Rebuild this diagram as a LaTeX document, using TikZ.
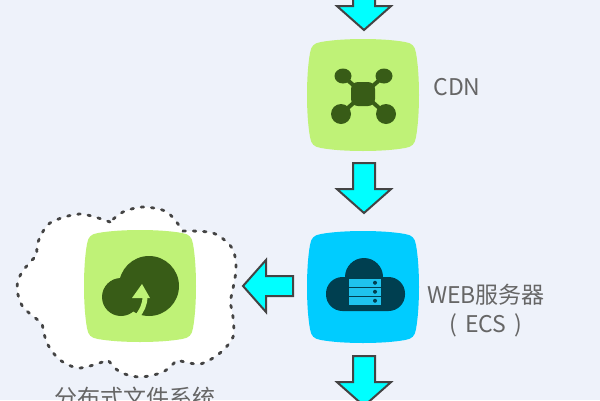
\documentclass[tikz,border=0pt]{standalone}
\usepackage{fontspec}
\setmainfont{Noto Sans CJK SC}
\usetikzlibrary{shapes.arrows,positioning}
\definecolor{pagebg}{HTML}{EEF2FA}
\definecolor{tilegreen}{HTML}{BFF277}
\definecolor{tileblue}{HTML}{00CCFF}
\definecolor{arrowcyan}{HTML}{00FFFF}
\definecolor{darkgreen}{HTML}{385C17}
\definecolor{darkblue}{HTML}{003F50}
\definecolor{barblue}{HTML}{1FC3EE}
\definecolor{edgegray}{HTML}{444444}
\definecolor{textgray}{HTML}{666666}
\tikzset{
  blockarrow/.style={single arrow,draw=edgegray,fill=arrowcyan,line width=2pt,inner sep=10pt,outer sep=0pt,
    minimum height=50pt,single arrow head extend=16pt,single arrow tip angle=97},
  tilelabel/.style={text=textgray,font=\fontsize{23}{29}\selectfont,align=center,inner sep=0pt},
  tile/.pic={
    \fill[pic actions] (-42,-53) .. controls (-20,-57) and (20,-57) .. (42,-53)
      .. controls (49,-52) and (52,-49) .. (53,-42)
      .. controls (57,-20) and (57,20) .. (53,42)
      .. controls (52,49) and (49,52) .. (42,53)
      .. controls (20,57) and (-20,57) .. (-42,53)
      .. controls (-49,52) and (-52,49) .. (-53,42)
      .. controls (-57,20) and (-57,-20) .. (-53,-42)
      .. controls (-52,-49) and (-49,-52) .. (-42,-53) -- cycle;
  }
}
\begin{document}
\begin{tikzpicture}[x=1pt,y=-1pt]
  \useasboundingbox (0,0) rectangle (600,400);
  \clip (0,0) rectangle (600,400);
  \fill[pagebg] (0,0) rectangle (600,400);

  % cloud round the storage tile
  \draw[fill=white,draw=edgegray,line width=2.8pt,line cap=round,dash pattern=on 2.5pt off 7.8pt]
    plot[smooth] coordinates {(110,222) (80,214) (50,223) (38,242) (37,255)}
    -- plot[smooth] coordinates {(37,255) (22,272) (17,288) (23,307) (42,323)}
    -- plot[smooth] coordinates {(42,323) (47,343) (60,360) (80,368) (108,360)}
    -- plot[smooth] coordinates {(108,360) (120,372) (140,377) (163,372) (177,360)}
    -- plot[smooth] coordinates {(177,360) (200,364) (220,353) (233,337) (233,317) (230,302)}
    -- plot[smooth] coordinates {(230,302) (236,270) (232,248) (213,233) (183,231)}
    -- plot[smooth] coordinates {(183,231) (167,212) (143,207) (123,212) (110,222)} -- cycle;

  \coordinate (cdn) at (363,95);
  \coordinate (web) at (363,287);
  \coordinate (store) at (140,286);
  \pic[fill=tilegreen] at (cdn) {tile};
  \pic[fill=tileblue] at (web) {tile};
  \pic[fill=tilegreen] at (store) {tile};

  % CDN icon
  \draw[darkgreen,line width=4pt] (343,76) -- (386,114) (384,76) -- (341,114);
  \fill[darkgreen,rounded corners=7pt] (351,82) rectangle (375,106);
  \fill[darkgreen] (343,76) ellipse (8.5pt and 7.5pt) (384,76) ellipse (8.5pt and 7.5pt)
    (341,114) circle (10pt) (386,114) circle (10pt);

  % server icon
  \fill[darkblue] (364,277) circle (19pt);
  \fill[darkblue,rounded corners=16.5pt] (326,277) rectangle (405,311);
  \foreach \y in {279,288,297}{
    \fill[barblue] (349,\y) rectangle (381,\y+7.5);
    \fill[darkblue] (375,\y+3.75) circle (2pt);
  }

  % storage icon
  \fill[darkgreen] (149,286) circle (30pt) (121,297) circle (19pt);
  \draw[tilegreen,line width=5pt] (145,296) .. controls (145,305) and (142,310) .. (137,317);
  \fill[tilegreen] (142,284) -- (150,298) -- (132,298) -- cycle;

  \node[blockarrow,shape border rotate=270,anchor=tip] (arrowtop) at (364,30) {};
  \node[blockarrow,shape border rotate=270,anchor=tip] (arrowcdn) at (364,213) {};
  \node[blockarrow,shape border rotate=270,anchor=tip] (arrowweb) at (364,406) {};
  \node[blockarrow,shape border rotate=180,anchor=tip,inner sep=9pt] (arrowstore) at (243,286) {};

  \node[tilelabel] (cdnlabel) at (457,87) {CDN};
  \node[tilelabel] (weblabel) at (486,311) {WEB服务器\\(\,\,ECS\,\,)};
  \node[tilelabel] (storelabel) at (135,398) {分布式文件系统};
\end{tikzpicture}
\end{document}
